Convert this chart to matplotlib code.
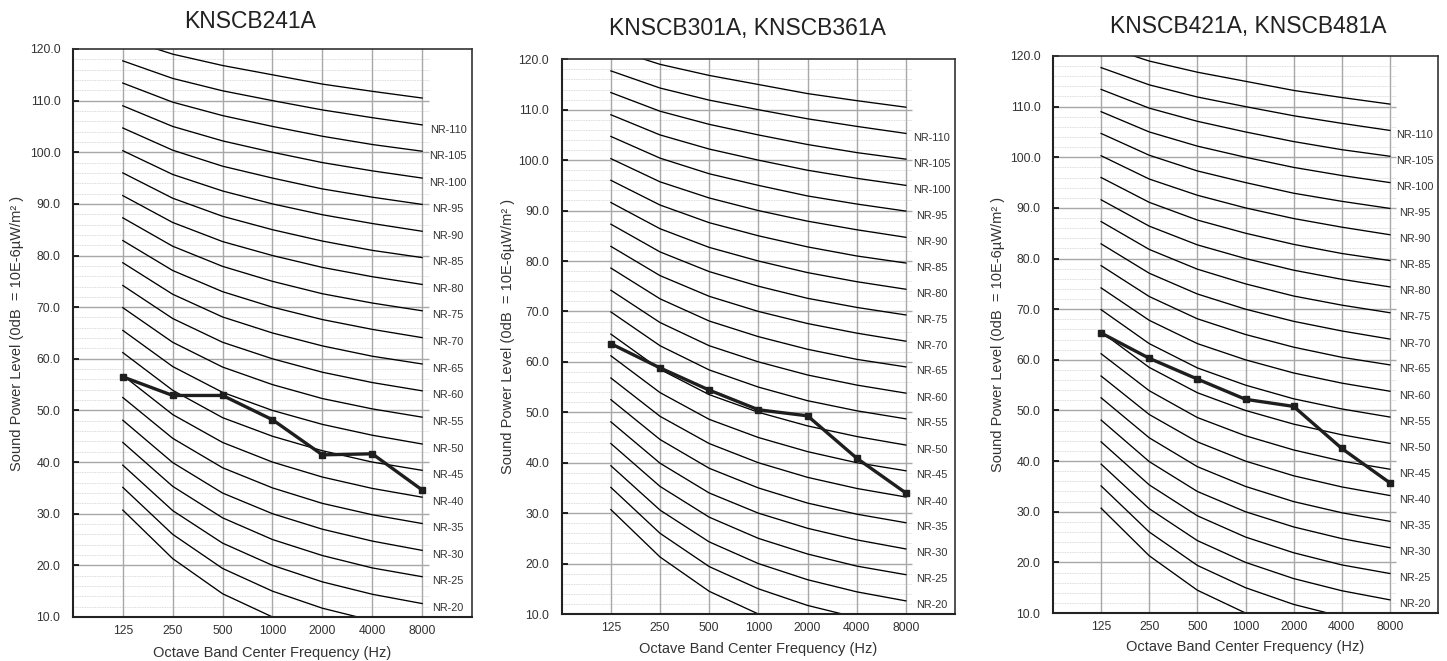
import matplotlib
matplotlib.use("Agg")
import matplotlib.pyplot as plt

plt.rcParams['font.family'] = ['Liberation Sans', 'DejaVu Sans']

# ---- data -------------------------------------------------------------
FREQ_LABELS = ["125", "250", "500", "1000", "2000", "4000", "8000"]

TITLES = ["KNSCB241A", "KNSCB301A, KNSCB361A", "KNSCB421A, KNSCB481A"]

# measured sound power levels per octave band, one list per unit
SPL_241 = [56.5, 52.9, 52.9, 48.2, 41.4, 41.6, 34.6]
SPL_301_361 = [63.6, 58.8, 54.4, 50.5, 49.3, 40.9, 34.0]
SPL_421_481 = [65.3, 60.3, 56.2, 52.2, 50.8, 42.5, 35.7]

# NR reference curves (125 ... 8000 Hz)
NR_INDEX = [10, 15, 20, 25, 30, 35, 40, 45, 50, 55, 60, 65,
            70, 75, 80, 85, 90, 95, 100, 105, 110, 115]
NR_LEVELS = [
    [30.7, 21.3, 14.5, 10.0, 6.7, 4.2, 2.3],
    [35.1, 26.0, 19.4, 15.0, 11.7, 9.3, 7.5],
    [39.4, 30.6, 24.3, 20.0, 16.8, 14.4, 12.6],
    [43.8, 35.3, 29.2, 25.0, 21.9, 19.5, 17.8],
    [48.1, 39.9, 34.0, 30.0, 27.0, 24.7, 22.9],
    [52.5, 44.6, 38.9, 35.0, 32.0, 29.8, 28.1],
    [56.8, 49.2, 43.8, 40.0, 37.1, 34.9, 33.2],
    [61.2, 53.9, 48.6, 45.0, 42.2, 40.0, 38.4],
    [65.5, 58.5, 53.5, 50.0, 47.3, 45.2, 43.5],
    [69.9, 63.2, 58.4, 55.0, 52.3, 50.3, 48.7],
    [74.2, 67.8, 63.2, 60.0, 57.4, 55.4, 53.8],
    [78.6, 72.5, 68.1, 65.0, 62.5, 60.5, 59.0],
    [82.9, 77.1, 73.0, 70.0, 67.6, 65.7, 64.1],
    [87.3, 81.8, 77.9, 75.0, 72.6, 70.8, 69.3],
    [91.6, 86.4, 82.7, 80.0, 77.7, 75.9, 74.4],
    [96.0, 91.1, 87.6, 85.0, 82.8, 81.0, 79.6],
    [100.3, 95.7, 92.5, 90.0, 87.9, 86.2, 84.7],
    [104.7, 100.4, 97.3, 95.0, 92.9, 91.3, 89.9],
    [109.0, 105.0, 102.2, 100.0, 98.0, 96.4, 95.0],
    [113.4, 109.7, 107.1, 105.0, 103.1, 101.5, 100.2],
    [117.7, 114.3, 111.9, 110.0, 108.2, 106.7, 105.3],
    [122.1, 119.0, 116.8, 115.0, 113.2, 111.8, 110.5],
]
NR_LABELLED = [20, 25, 30, 35, 40, 45, 50, 55, 60, 65, 70, 75,
               80, 85, 90, 95, 100, 105, 110]

# ---- layout (figure fractions) -----------------------------------------
AX_RECTS = [
    [0.0504, 0.0666, 0.2758, 0.8593],
    [0.3882, 0.0711, 0.2718, 0.8392],
    [0.7277, 0.0726, 0.2661, 0.8427],
]
TITLE_POS = [(250, 21), (747, 28.5), (1248, 26)]
YLABEL_X = [17, 508, 998]
XLABEL_Y = [653, 649, 647]

W, H = 1447, 661
fig = plt.figure(figsize=(W / 100, H / 100), dpi=100)

YLABEL = "Sound Power Level (0dB  = 10E-6\u00b5W/m\u00b2 )"
XLABEL = "Octave Band Center Frequency (Hz)"
series = [SPL_241, SPL_301_361, SPL_421_481]
xs = list(range(1, len(FREQ_LABELS) + 1))
grid_end = 7.13


def draw_panel(ax, spl):
    ax.set_xlim(0, 8)
    ax.set_ylim(10, 120)

    # grid: minor every 2 dB, major every 10 dB, verticals at each band
    for y in range(12, 120, 2):
        if y % 10:
            ax.hlines(y, 0, grid_end, color="#cfcfcf", lw=0.6,
                      linestyles=(0, (1, 1)), zorder=1)
    for y in range(20, 120, 10):
        ax.hlines(y, 0, grid_end, color="#a8a8a8", lw=1.0, zorder=1.5)
    for x in xs:
        ax.axvline(x, color="#a8a8a8", lw=1.0, zorder=1.5)

    for n, lv in zip(NR_INDEX, NR_LEVELS):
        ax.plot(xs, lv, color="black", lw=0.95, zorder=2, clip_on=True)
        if n in NR_LABELLED:
            ax.text(7.52, lv[-1] - 0.9, f"NR-{n}", fontsize=7.8,
                    color="#333333", ha="center", va="center", zorder=3)

    ax.plot(xs, spl, color="#1e1e1e", lw=2.4, marker="s", markersize=5,
            zorder=4)

    ax.set_xticks(xs)
    ax.set_xticklabels(FREQ_LABELS, fontsize=8.8, color="#333333")
    ax.set_yticks(range(10, 121, 10))
    ax.set_yticklabels([f"{v:.1f}" for v in range(10, 121, 10)],
                       fontsize=8.8, color="#333333")
    ax.tick_params(axis="x", length=0, pad=6)
    ax.tick_params(axis="y", direction="in", length=4, width=1.2, pad=9)

    for side in ["left", "bottom"]:
        ax.spines[side].set_linewidth(1.5)
        ax.spines[side].set_color("#222222")
    for side in ["top", "right"]:
        ax.spines[side].set_linewidth(1.2)
        ax.spines[side].set_color("#333333")


for i, (rect, spl) in enumerate(zip(AX_RECTS, series)):
    ax = fig.add_axes(rect)
    draw_panel(ax, spl)
    tx, ty = TITLE_POS[i]
    fig.text(tx / W, 1 - ty / H, TITLES[i], fontsize=16.5, color="#222222",
             ha="center", va="center")
    cx = (rect[0] + rect[2] / 2)
    fig.text(cx, 1 - XLABEL_Y[i] / H, XLABEL, fontsize=10.5,
             color="#333333", ha="center", va="center")
    cy = rect[1] + rect[3] / 2
    fig.text(YLABEL_X[i] / W, cy, YLABEL, fontsize=10.5, color="#333333",
             ha="center", va="center", rotation=90)

fig.savefig("out.png", dpi=100, facecolor="white")
